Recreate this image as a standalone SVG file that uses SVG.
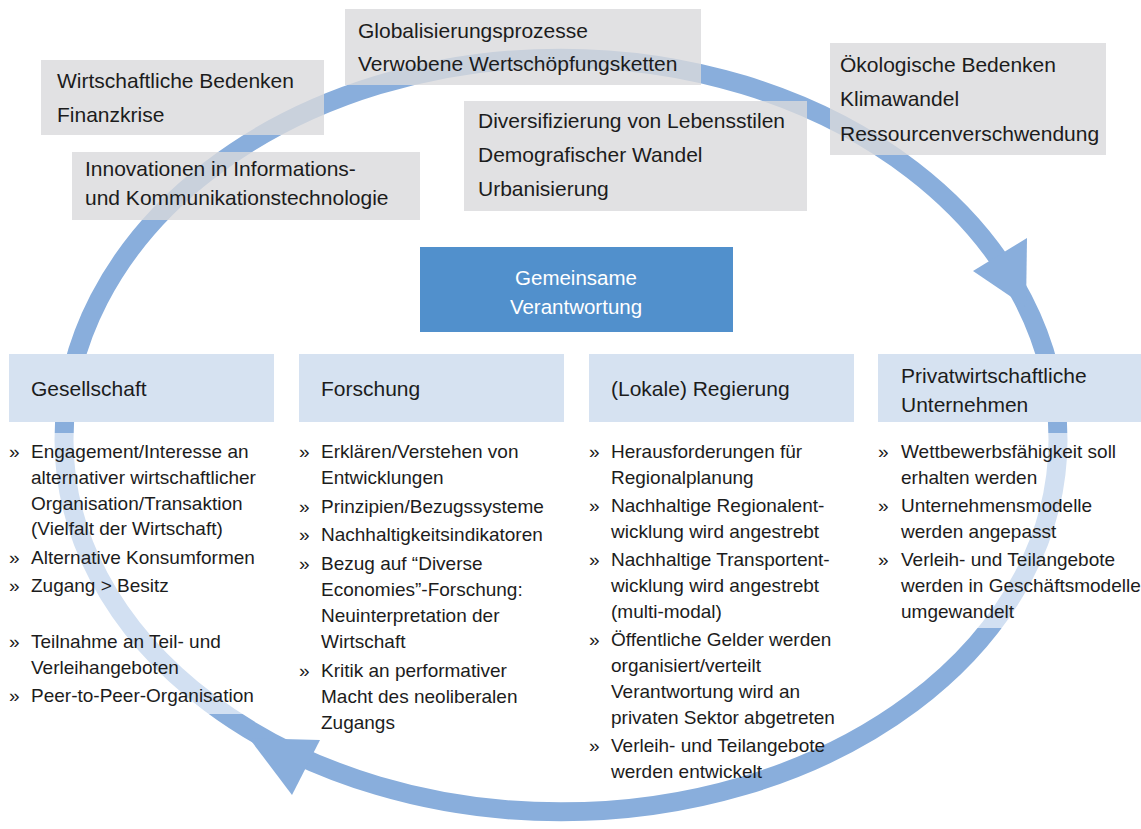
<svg xmlns="http://www.w3.org/2000/svg" width="1141" height="829" viewBox="0 0 1141 829">
<style>
text{font-family:"Liberation Sans",Arial,sans-serif;fill:#1c1c1c}
.g{fill:#D9DADC;fill-opacity:0.8}
.gt{font-size:21px}
.h{fill:#D6E2F1}
.ht{font-size:21px}
.b{font-size:19px}
.w{fill:#ffffff;fill-opacity:0.62}
.arc{fill:none;stroke:#89AEDC;stroke-width:19}
.ah{fill:#89AEDC}
</style>
<rect width="1141" height="829" fill="#ffffff"/>
<g id="connectors">
<path class="arc" d="M 64,440 A 497 382 0 0 1 1058,440 A 497 372 0 0 1 64,440 Z"/>
<polygon class="ah" points="1027,238 973,271 1026,307"/>
<polygon class="ah" points="320,740 292,795 249,738"/>
</g>
<g id="box-wirtschaft">
<rect class="g" x="41" y="60" width="283" height="75"/>
<text class="gt" x="57" y="88">Wirtschaftliche Bedenken</text>
<text class="gt" x="57" y="122">Finanzkrise</text>
</g>
<g id="box-innovation">
<rect class="g" x="72" y="152" width="348" height="68"/>
<text class="gt" x="85" y="176">Innovationen in Informations-</text>
<text class="gt" x="85" y="205">und Kommunikationstechnologie</text>
</g>
<g id="box-global">
<rect class="g" x="345" y="9" width="356" height="76"/>
<text class="gt" x="358" y="38">Globalisierungsprozesse</text>
<text class="gt" x="358" y="71">Verwobene Wertschöpfungsketten</text>
</g>
<g id="box-divers">
<rect class="g" x="464" y="101" width="343" height="110"/>
<text class="gt" x="478" y="128">Diversifizierung von Lebensstilen</text>
<text class="gt" x="478" y="162">Demografischer Wandel</text>
<text class="gt" x="478" y="196">Urbanisierung</text>
</g>
<g id="box-oeko">
<rect class="g" x="830" y="43" width="276" height="112"/>
<text class="gt" x="840" y="72">Ökologische Bedenken</text>
<text class="gt" x="840" y="106">Klimawandel</text>
<text class="gt" x="840" y="141">Ressourcenverschwendung</text>
</g>
<g id="box-center">
<rect x="420" y="247" width="313" height="85" fill="#5190CC"/>
<text x="576" y="285" font-size="20.5" text-anchor="middle" style="fill:#ffffff">Gemeinsame</text>
<text x="576" y="314" font-size="20.5" text-anchor="middle" style="fill:#ffffff">Verantwortung</text>
</g>
<g id="col-gesellschaft">
<rect class="h" x="9" y="354" width="265" height="68"/>
<text class="ht" x="31" y="396">Gesellschaft</text>
<rect class="w" x="0" y="433" width="285" height="281"/>
<text class="b" x="9" y="458">»</text><text class="b" x="31" y="458">Engagement/Interesse an</text>
<text class="b" x="31" y="484">alternativer wirtschaftlicher</text>
<text class="b" x="31" y="510">Organisation/Transaktion</text>
<text class="b" x="31" y="535">(Vielfalt der Wirtschaft)</text>
<text class="b" x="9" y="564">»</text><text class="b" x="31" y="564">Alternative Konsumformen</text>
<text class="b" x="9" y="592">»</text><text class="b" x="31" y="592">Zugang &gt; Besitz</text>
<text class="b" x="9" y="648">»</text><text class="b" x="31" y="648">Teilnahme an Teil- und</text>
<text class="b" x="31" y="674">Verleihangeboten</text>
<text class="b" x="9" y="702">»</text><text class="b" x="31" y="702">Peer-to-Peer-Organisation</text>
</g>
<g id="col-forschung">
<rect class="h" x="299" y="354" width="265" height="68"/>
<text class="ht" x="321" y="396">Forschung</text>
<text class="b" x="299" y="458">»</text><text class="b" x="321" y="458">Erklären/Verstehen von</text>
<text class="b" x="321" y="484">Entwicklungen</text>
<text class="b" x="299" y="513">»</text><text class="b" x="321" y="513">Prinzipien/Bezugssysteme</text>
<text class="b" x="299" y="541">»</text><text class="b" x="321" y="541">Nachhaltigkeitsindikatoren</text>
<text class="b" x="299" y="570">»</text><text class="b" x="321" y="570">Bezug auf “Diverse</text>
<text class="b" x="321" y="596">Economies”-Forschung:</text>
<text class="b" x="321" y="622">Neuinterpretation der</text>
<text class="b" x="321" y="648">Wirtschaft</text>
<text class="b" x="299" y="677">»</text><text class="b" x="321" y="677">Kritik an performativer</text>
<text class="b" x="321" y="703">Macht des neoliberalen</text>
<text class="b" x="321" y="729">Zugangs</text>
</g>
<g id="col-regierung">
<rect class="h" x="589" y="354" width="265" height="68"/>
<text class="ht" x="611" y="396">(Lokale) Regierung</text>
<text class="b" x="589" y="458">»</text><text class="b" x="611" y="458">Herausforderungen für</text>
<text class="b" x="611" y="484">Regionalplanung</text>
<text class="b" x="589" y="512">»</text><text class="b" x="611" y="512">Nachhaltige Regionalent-</text>
<text class="b" x="611" y="538">wicklung wird angestrebt</text>
<text class="b" x="589" y="566">»</text><text class="b" x="611" y="566">Nachhaltige Transportent-</text>
<text class="b" x="611" y="592">wicklung wird angestrebt</text>
<text class="b" x="611" y="618">(multi-modal)</text>
<text class="b" x="589" y="646">»</text><text class="b" x="611" y="646">Öffentliche Gelder werden</text>
<text class="b" x="611" y="672">organisiert/verteilt</text>
<text class="b" x="611" y="698">Verantwortung wird an</text>
<text class="b" x="611" y="724">privaten Sektor abgetreten</text>
<text class="b" x="589" y="752">»</text><text class="b" x="611" y="752">Verleih- und Teilangebote</text>
<text class="b" x="611" y="778">werden entwickelt</text>
</g>
<g id="col-privat">
<rect class="h" x="878" y="354" width="263" height="68"/>
<text class="ht" x="901" y="383">Privatwirtschaftliche</text>
<text class="ht" x="901" y="412">Unternehmen</text>
<rect class="w" x="878" y="433" width="263" height="195"/>
<text class="b" x="878" y="458">»</text><text class="b" x="901" y="458">Wettbewerbsfähigkeit soll</text>
<text class="b" x="901" y="484">erhalten werden</text>
<text class="b" x="878" y="512">»</text><text class="b" x="901" y="512">Unternehmensmodelle</text>
<text class="b" x="901" y="538">werden angepasst</text>
<text class="b" x="878" y="566">»</text><text class="b" x="901" y="566">Verleih- und Teilangebote</text>
<text class="b" x="901" y="592">werden in Geschäftsmodelle</text>
<text class="b" x="901" y="618">umgewandelt</text>
</g>
</svg>
